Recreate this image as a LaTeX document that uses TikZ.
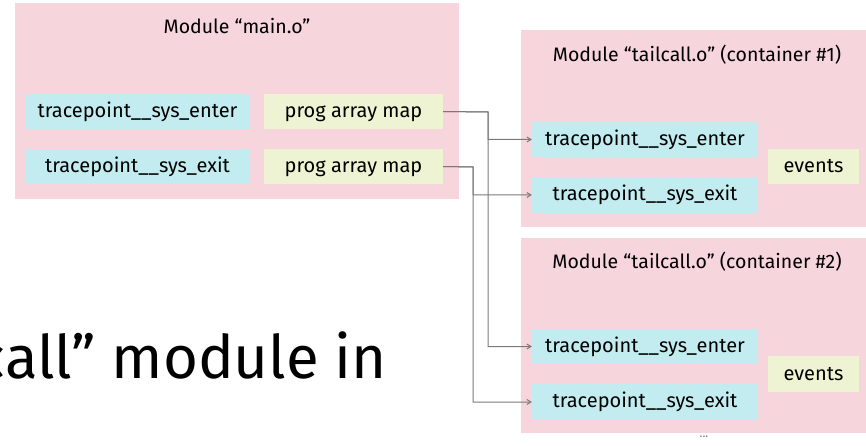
\documentclass[tikz,border=0pt]{standalone}
\usepackage{fontspec}
\setmainfont{Fira Sans}
\usetikzlibrary{arrows.meta}
\definecolor{modpink}{HTML}{F7D5DD}
\definecolor{tpcyan}{HTML}{C3ECF1}
\definecolor{mapgreen}{HTML}{EEF4D3}
\definecolor{wire}{HTML}{7A7A7A}
\tikzset{
  module/.style={fill=modpink, draw=none},
  tpbox/.style={fill=tpcyan, draw=none, inner sep=0pt, font=\fontsize{20}{24}\selectfont},
  mapbox/.style={fill=mapgreen, draw=none, inner sep=0pt, font=\fontsize{20}{24}\selectfont},
  title/.style={font=\fontsize{19.5}{24}\selectfont, inner sep=0pt},
  conn/.style={draw=wire, line width=1pt, -{Straight Barb[length=4pt,width=5pt]}},
}
\begin{document}
\begin{tikzpicture}[x=1pt,y=-1pt]
\useasboundingbox (0,0) rectangle (866,446);
\clip (0,0) rectangle (866,446);

% module backgrounds
\fill[module] (15,3) rectangle (459,199);
\fill[module] (521,30) rectangle (866,227);
\fill[module] (521,238) rectangle (866,433);

% module titles
\node[title] (tmain) at (237,26) {Module “main.o”};
\node[title] (tc1) at (697,55) {Module “tailcall.o” (container \#1)};
\node[title] (tc2) at (697,262) {Module “tailcall.o” (container \#2)};

% main.o contents
\node[tpbox, minimum width=225pt, minimum height=35pt] (menter) at (137.5,111.5) {tracepoint\_\_sys\_enter};
\node[tpbox, minimum width=225pt, minimum height=35pt] (mexit) at (137.5,166.5) {tracepoint\_\_sys\_exit};
\node[mapbox, minimum width=179pt, minimum height=35pt, text depth=-2pt] (map1) at (353.5,111.5) {prog array map};
\node[mapbox, minimum width=179pt, minimum height=35pt, text depth=-2pt] (map2) at (353.5,166.5) {prog array map};

% container #1 contents
\node[tpbox, minimum width=226pt, minimum height=35pt] (aenter) at (645,139.5) {tracepoint\_\_sys\_enter};
\node[tpbox, minimum width=226pt, minimum height=36pt] (aexit) at (645,195) {tracepoint\_\_sys\_exit};
\node[mapbox, minimum width=91pt, minimum height=35pt] (aev) at (813.5,166.5) {events};

% container #2 contents
\node[tpbox, minimum width=226pt, minimum height=35pt] (benter) at (645,346.5) {tracepoint\_\_sys\_enter};
\node[tpbox, minimum width=226pt, minimum height=36pt] (bexit) at (645,402) {tracepoint\_\_sys\_exit};
\node[mapbox, minimum width=91pt, minimum height=36pt] (bev) at (813.5,374) {events};

% wiring junctions
\coordinate (j1) at (488,112);
\coordinate (j2) at (473,167);

\draw[conn] (map1.east) -- (j1) |- (aenter.west);
\draw[conn] (map1.east) -- (j1) |- (benter.west);
\draw[conn] (map2.east) -- (j2) |- (aexit.west);
\draw[conn] (map2.east) -- (j2) |- (bexit.west);

% partial caption text, running off the left edge
\node[anchor=base east, inner sep=0pt, font=\fontsize{60}{66}\selectfont] (cap) at (387,378) {call” module in};
\node[anchor=north, inner sep=0pt, text=wire, font=\fontsize{12}{12}\selectfont] (more) at (704,436) {...};
\end{tikzpicture}
\end{document}
